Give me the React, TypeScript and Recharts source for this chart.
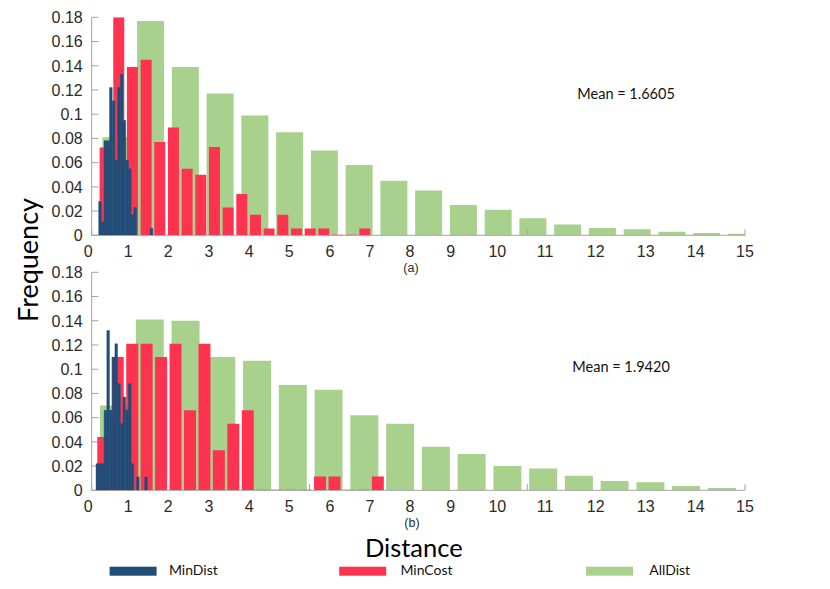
import { BarChart, Bar, XAxis, YAxis, ReferenceLine } from "recharts";

// panel (a)
const allDistXA = [0.558, 1.356, 2.154, 2.952, 3.75, 4.548, 5.346, 6.144, 6.942, 7.74, 8.538, 9.336, 10.134, 10.932, 11.73, 12.528, 13.326, 14.124, 14.922];
const allDistA = [0.081, 0.177, 0.139, 0.117, 0.099, 0.085, 0.07, 0.058, 0.045, 0.037, 0.025, 0.021, 0.014, 0.009, 0.006, 0.005, 0.003, 0.002, 0.0013];
const minCostXA = [0.311, 0.625, 0.939, 1.253, 1.567, 1.881, 2.194, 2.508, 2.822, 3.136, 3.45, 3.764, 4.078, 4.392, 4.706, 5.02, 5.334, 5.648, 5.962, 6.275];
const minCostA = [0.0725, 0.18, 0.139, 0.145, 0.077, 0.089, 0.055, 0.05, 0.073, 0.023, 0.034, 0.017, 0.0057, 0.017, 0.0057, 0.0057, 0.0057, 0.0005, 0.0005, 0.0057];
const minDistXA = [0.191, 0.253, 0.315, 0.378, 0.44, 0.502, 0.564, 0.626, 0.689, 0.751, 0.813, 0.875, 0.937, 1.0, 1.062, 1.124, 1.186, 1.248, 1.311, 1.373];
const minDistA = [0.028, 0.011, 0.078, 0.078, 0.122, 0.111, 0.062, 0.122, 0.133, 0.095, 0.062, 0.055, 0.017, 0.023, 0, 0, 0, 0, 0, 0.0057];

// panel (b)
const allDistXB = [0.517, 1.338, 2.159, 2.98, 3.801, 4.622, 5.443, 6.264, 7.085, 7.906, 8.727, 9.548, 10.369, 11.19, 12.011, 12.832, 13.653, 14.474];
const allDistB = [0.07, 0.141, 0.14, 0.11, 0.107, 0.087, 0.083, 0.062, 0.055, 0.036, 0.03, 0.02, 0.018, 0.012, 0.0077, 0.0066, 0.0036, 0.0019];
const minCostXB = [0.266, 0.598, 0.93, 1.261, 1.593, 1.925, 2.257, 2.589, 2.92, 3.252, 3.584, 3.916, 4.248, 4.579, 4.911, 5.243, 5.575, 5.907, 6.238, 6.57];
const minCostB = [0.044, 0.11, 0.121, 0.121, 0.11, 0.121, 0.066, 0.121, 0.033, 0.055, 0.066, 0.0005, 0.0005, 0.0005, 0.0005, 0.0113, 0.0113, 0.0005, 0.0005, 0.0113];
const minDistXB = [0.13, 0.192, 0.254, 0.316, 0.378, 0.44, 0.502, 0.564, 0.626, 0.688, 0.75, 0.812, 0.874, 0.936, 0.998, 1.06, 1.122, 1.184, 1.246];
const minDistB = [0.022, 0.022, 0.022, 0.066, 0.132, 0.066, 0.11, 0.121, 0.088, 0.055, 0.077, 0.066, 0.088, 0.022, 0, 0.011, 0, 0, 0.011];

// axes
const xTickPos = [-0.078, 0.84, 1.759, 2.693, 3.619, 4.537, 5.472, 6.39, 7.309, 8.243, 9.313, 10.409, 11.573, 12.721, 13.869, 15];
const xTickLabels = ["0", "1", "2", "3", "4", "5", "6", "7", "8", "9", "10", "11", "12", "13", "14", "15"];
const xFrameTicks = [0, 5, 10, 15];
const yTicks = [0, 0.02, 0.04, 0.06, 0.08, 0.1, 0.12, 0.14, 0.16, 0.18];

const seriesNames = ["MinDist", "MinCost", "AllDist"];
const seriesColors = ["#1f4e79", "#fe3350", "#a9d18e"];
const meanLabels = ["Mean = 1.6605", "Mean = 1.9420"];
const panelLabels = ["(a)", "(b)"];

const W = 830;
const H = 260;
const PL = 91.7;
const PT = 17.3;
const PR = 85;
const PB = 24.7;
const YW = 60;
const AXIS = "#a3a3a3";
const TICK_FONT = "'Liberation Sans', Arial, sans-serif";
const TEXT_FONT = "Lato, 'Open Sans', sans-serif";

const toRows = (xs: number[], vs: number[]) => xs.map((x, i) => ({ x, v: vs[i] }));

const XTick = (props: any) => {
  const { x, y, payload } = props;
  const i = xTickPos.indexOf(payload.value);
  return (
    <text x={x} y={y + 13.4} textAnchor="middle" fontSize={16} fontFamily={TICK_FONT} fill="#2b2b2b">
      {xTickLabels[i]}
    </text>
  );
};

const YTick = (props: any) => {
  const { x, y, payload } = props;
  return (
    <g>
      <line x1={PL} x2={PL + 6.7} y1={y} y2={y} stroke={AXIS} />
      <text x={x - 1} y={y} dy="0.36em" textAnchor="end" fontSize={16} fontFamily={TICK_FONT} fill="#2b2b2b">
        {String(payload.value)}
      </text>
    </g>
  );
};

type LayerProps = {
  rows: { x: number; v: number }[];
  color: string;
  gap: string | number;
  barSize?: number;
  axes?: boolean;
};

function Layer({ rows, color, gap, barSize, axes }: LayerProps) {
  const margin = axes
    ? { top: PT, right: PR, left: PL - YW, bottom: 0 }
    : { top: PT, right: PR, left: PL, bottom: PB };
  return (
    <div style={{ position: "absolute", left: 0, top: 0 }}>
      <BarChart width={W} height={H} data={rows} margin={margin} barCategoryGap={gap}>
        <XAxis
          type="number"
          dataKey="x"
          domain={[0, 15]}
          allowDataOverflow
          hide={!axes}
          height={PB}
          ticks={xTickPos}
          interval={0}
          tick={XTick}
          tickLine={false}
          axisLine={{ stroke: AXIS }}
        />
        <YAxis
          type="number"
          domain={[0, 0.18]}
          allowDataOverflow
          hide={!axes}
          width={YW}
          ticks={yTicks}
          interval={0}
          tick={YTick}
          tickLine={false}
          axisLine={{ stroke: AXIS }}
        />
        {axes &&
          xFrameTicks.map((t) => (
            <ReferenceLine
              key={t}
              segment={[
                { x: t, y: 0 },
                { x: t, y: 0.005 }
              ]}
              stroke={AXIS}
            />
          ))}
        <Bar
          dataKey="v"
          fill={color}
          stroke={barSize ? color : undefined}
          strokeWidth={barSize ? 0.4 : 0}
          barSize={barSize}
          isAnimationActive={false}
        />
      </BarChart>
    </div>
  );
}

function Panel({ top, green, red, blue, greenGap, redGap }: any) {
  return (
    <div style={{ position: "absolute", left: 0, top, width: W, height: H }}>
      <Layer rows={green} color={seriesColors[2]} gap={greenGap} axes />
      <Layer rows={red} color={seriesColors[1]} gap={redGap} />
      <Layer rows={blue} color={seriesColors[0]} gap={0} barSize={2.69} />
    </div>
  );
}

export default function App() {
  const legendSwatchX = [109.6, 339.2, 586];
  const legendTextX = [168.9, 400.4, 649.2];
  return (
    <div style={{ position: "absolute", left: 0, top: 0, width: 830, height: 589, background: "#fff", overflow: "hidden" }}>
      <Panel
        top={0}
        green={toRows(allDistXA, allDistA)}
        red={toRows(minCostXA, minCostA)}
        blue={toRows(minDistXA, minDistA)}
        greenGap="10.7%"
        redGap="8.5%"
      />
      <Panel
        top={255.4}
        green={toRows(allDistXB, allDistB)}
        red={toRows(minCostXB, minCostB)}
        blue={toRows(minDistXB, minDistB)}
        greenGap="10.4%"
        redGap="8.3%"
      />
      <svg width={830} height={589} style={{ position: "absolute", left: 0, top: 0, pointerEvents: "none" }}>
        <text x={577.3} y={99.3} fontSize={14.5} fontFamily={TEXT_FONT} fill="#111">{meanLabels[0]}</text>
        <text x={572.3} y={372.3} fontSize={14.5} fontFamily={TEXT_FONT} fill="#111">{meanLabels[1]}</text>
        <text x={411} y={271.5} textAnchor="middle" fontSize={12.5} fontFamily={TICK_FONT} fill="#2b2b2b">{panelLabels[0]}</text>
        <text x={412} y={526.5} textAnchor="middle" fontSize={12.5} fontFamily={TICK_FONT} fill="#2b2b2b">{panelLabels[1]}</text>
        <text x={413.8} y={556.7} textAnchor="middle" fontSize={25.5} fontFamily={TEXT_FONT} fill="#000">Distance</text>
        <text x={38} y={260} textAnchor="middle" fontSize={27} fontFamily={TEXT_FONT} fill="#000" transform="rotate(-90 38 260)">Frequency</text>
        {seriesNames.map((name, i) => (
          <g key={name}>
            <rect x={legendSwatchX[i]} y={566.7} width={47} height={9} fill={seriesColors[i]} />
            <text x={legendTextX[i]} y={575.3} fontSize={14} fontFamily={TEXT_FONT} fill="#111">{name}</text>
          </g>
        ))}
      </svg>
    </div>
  );
}
